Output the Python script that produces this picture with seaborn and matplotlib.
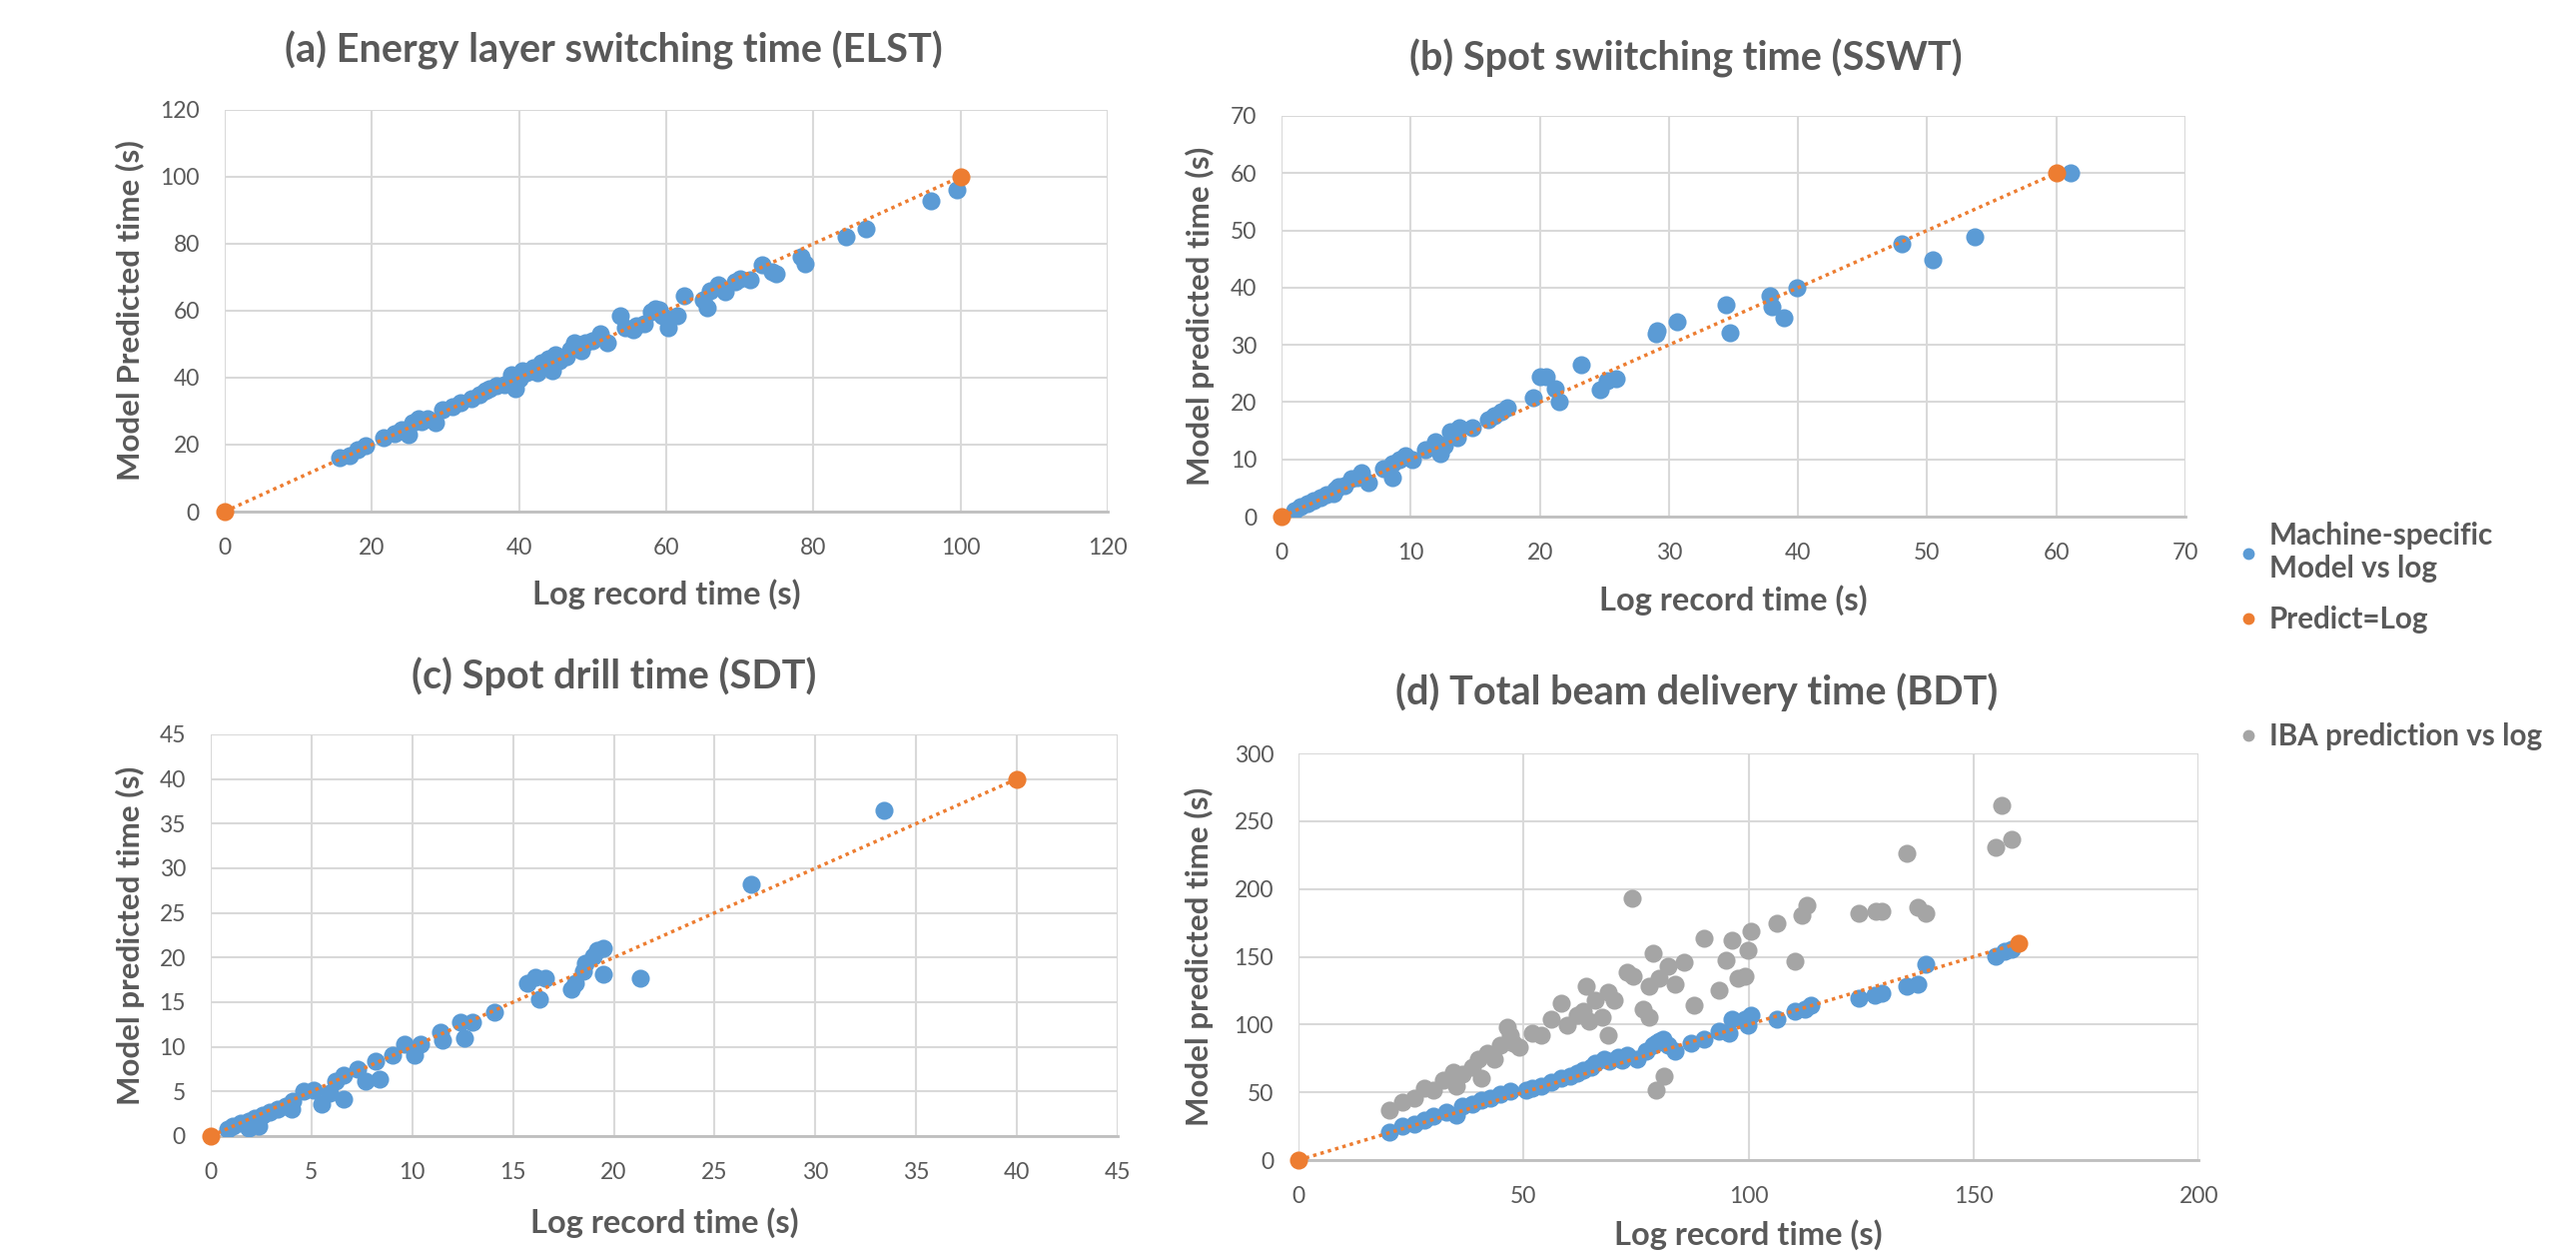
import matplotlib
matplotlib.use("Agg")
import matplotlib.pyplot as plt
import seaborn as sns
from matplotlib.lines import Line2D

sns.set_theme(style="white")
plt.rcParams['font.family'] = ['Lato', 'DejaVu Sans']

BLUE = "#5B9BD5"
ORANGE = "#ED7D31"
GREY = "#A5A5A5"
TEXT = "#595959"

# (a) energy layer switching time
a_log = [15.6, 17.0, 18.1, 19.1, 21.6, 23.1, 24.0, 25.0, 25.6, 26.3, 26.8, 27.6, 28.6, 29.6, 31.0, 32.0,
         33.6, 34.6, 35.5, 36.0, 37.0, 38.0, 39.0, 39.5, 40.0, 40.5, 41.0, 42.0, 42.5, 43.0, 44.0, 44.5,
         45.0, 45.5, 46.5, 47.0, 47.5, 48.5, 49.0, 50.0, 51.0, 52.0, 53.8, 54.5, 55.5, 56.0, 57.0, 58.0,
         58.5, 59.0, 59.5, 60.3, 61.5, 62.5, 65.0, 65.6, 66.0, 67.0, 68.0, 69.4, 70.0, 71.4, 73.0, 74.4,
         75.0, 78.4, 78.9, 84.4, 87.2, 96.0, 99.5]
a_model = [16.1, 16.7, 18.5, 19.7, 22.0, 23.2, 24.5, 23.0, 26.7, 27.9, 27.0, 27.9, 26.7, 30.3, 31.4, 32.5,
           33.8, 35.0, 36.0, 36.7, 37.5, 38.0, 40.9, 36.7, 39.7, 42.0, 41.5, 43.0, 41.5, 44.4, 45.6, 42.0,
           46.8, 45.0, 46.2, 48.5, 50.3, 48.0, 50.3, 51.0, 53.2, 50.3, 58.5, 55.0, 54.4, 55.5, 56.2, 59.7,
           60.5, 60.3, 58.5, 55.0, 58.5, 64.4, 63.3, 60.9, 66.0, 67.9, 65.6, 68.5, 69.5, 69.1, 73.8, 71.5,
           70.9, 76.2, 74.1, 82.1, 84.5, 92.7, 96.2]
a_ident = [0, 100]

# (b) spot switching time
b_log = [1.0, 1.5, 2.0, 2.5, 3.0, 3.5, 4.0, 4.2, 4.4, 4.9, 5.4, 5.9, 6.2, 6.7, 7.9, 8.6, 8.6, 9.1, 9.6,
         10.1, 11.1, 11.9, 12.3, 12.6, 13.1, 13.6, 13.8, 14.8, 16.0, 16.5, 17.0, 17.5, 19.5, 20.0, 20.5,
         21.2, 21.5, 23.2, 24.7, 25.2, 25.9, 29.0, 29.1, 30.6, 34.4, 34.7, 37.8, 38.0, 38.9, 39.9, 48.0,
         50.4, 53.7, 61.1]
b_model = [1.0, 1.7, 2.2, 2.8, 3.3, 3.8, 4.1, 4.8, 5.2, 5.5, 6.6, 6.9, 7.6, 5.9, 8.3, 9.3, 6.9, 10.0, 10.7,
           10.0, 11.7, 13.1, 11.0, 12.4, 14.8, 13.8, 15.5, 15.5, 16.9, 17.6, 18.3, 19.0, 20.7, 24.5, 24.5,
           22.4, 20.0, 26.6, 22.1, 23.8, 24.1, 31.9, 32.4, 34.1, 37.0, 32.1, 38.6, 36.6, 34.8, 39.9, 47.7,
           44.8, 48.8, 60.1]
b_ident = [0, 60]

# (c) spot drill time
c_log = [0.84, 1.1, 1.5, 1.9, 1.9, 2.2, 2.4, 2.6, 2.95, 3.3, 3.7, 4.0, 4.05, 4.6, 5.1, 5.5, 5.9, 6.2, 6.6,
         6.6, 7.3, 7.7, 8.2, 8.4, 9.0, 9.6, 10.1, 10.4, 11.4, 11.5, 12.4, 12.6, 13.0, 14.1, 15.7, 16.1,
         16.3, 16.6, 17.9, 18.1, 18.5, 18.6, 19.0, 19.2, 19.5, 19.5, 21.3, 26.8, 33.4]
c_model = [0.78, 1.1, 1.4, 1.7, 0.9, 2.05, 1.1, 2.4, 2.7, 3.05, 3.4, 3.0, 3.9, 5.0, 5.2, 3.6, 4.8, 6.2, 6.8,
           4.1, 7.5, 6.2, 8.4, 6.4, 9.1, 10.3, 9.1, 10.3, 11.6, 10.7, 12.8, 11.0, 12.8, 13.9, 17.1, 17.8,
           15.3, 17.7, 16.4, 17.1, 18.5, 19.4, 20.1, 20.8, 21.0, 18.1, 17.7, 28.2, 36.5]
c_ident = [0, 40]

# (d) total beam delivery time
d_log = [20.2, 23.0, 25.8, 27.9, 30.0, 32.9, 35.0, 36.4, 38.5, 40.6, 42.7, 44.9, 47.0, 50.5, 52.0, 54.0,
         56.1, 58.3, 60.4, 62.0, 63.2, 65.0, 66.0, 67.9, 69.0, 70.9, 72.0, 73.0, 75.2, 77.3, 78.7, 79.5,
         80.1, 81.0, 82.2, 83.6, 87.2, 90.0, 93.5, 95.6, 96.3, 99.2, 99.9, 100.6, 106.2, 110.4, 112.6,
         113.9, 124.5, 128.0, 129.5, 135.1, 137.7, 139.3, 154.9, 157.0, 158.4]
d_model = [20.3, 24.8, 26.9, 29.3, 32.3, 35.3, 33.2, 39.8, 41.3, 44.3, 45.8, 48.8, 51.2, 51.8, 53.0, 54.7,
           57.7, 60.7, 62.2, 64.5, 66.7, 68.5, 71.2, 74.2, 73.0, 75.7, 73.5, 77.2, 74.2, 80.2, 84.7, 86.0,
           87.6, 89.0, 84.7, 80.2, 86.1, 89.1, 95.1, 93.6, 104.1, 104.1, 99.6, 107.1, 104.1, 110.1, 111.6,
           114.6, 119.1, 122.0, 123.0, 128.0, 129.5, 144.5, 150.5, 154.0, 155.8]
d_iba_log = [20.2, 23.0, 25.8, 27.9, 30.0, 32.2, 34.3, 35.0, 36.4, 38.5, 39.9, 40.6, 42.0, 43.4, 44.9, 46.3,
             47.0, 47.7, 49.1, 51.9, 54.0, 56.1, 58.3, 59.7, 61.8, 63.2, 63.9, 64.6, 66.0, 67.4, 68.8, 68.8,
             70.2, 73.0, 74.2, 74.4, 76.6, 77.9, 77.9, 78.7, 80.1, 81.2, 79.4, 82.2, 83.6, 85.7, 87.8, 90.0,
             93.5, 94.9, 96.3, 97.7, 99.2, 99.9, 100.6, 106.2, 110.2, 111.8, 113.0, 124.5, 128.3, 129.7,
             135.1, 137.7, 139.3, 154.9, 156.3, 158.4]
d_iba_pred = [36.8, 42.8, 45.8, 53.2, 51.7, 59.2, 65.2, 54.7, 63.7, 68.2, 74.2, 60.7, 78.7, 74.2, 84.7, 98.1,
              92.1, 86.1, 83.2, 93.6, 92.1, 104.1, 116.1, 99.6, 107.1, 110.1, 128.0, 102.6, 117.6, 105.6,
              123.5, 92.1, 117.6, 138.5, 193.2, 135.5, 111.6, 105.6, 128.0, 152.9, 134.0, 62.2, 51.8, 143.0,
              129.5, 146.0, 114.6, 164.0, 125.0, 147.5, 162.5, 134.0, 135.5, 155.0, 169.0, 175.0, 146.6,
              180.4, 187.9, 181.9, 183.4, 183.4, 226.1, 186.4, 181.9, 230.6, 261.7, 236.3]
d_ident = [0, 160]

titles = ["(a) Energy layer switching time (ELST)", "(b) Spot swiitching time (SSWT)",
          "(c) Spot drill time (SDT)", "(d) Total beam delivery time (BDT)"]
ylabels = ["Model Predicted time (s)", "Model predicted time (s)",
           "Model predicted time (s)", "Model predicted time (s)"]
xlabel = "Log record time (s)"
legend_labels = ["Machine-specific\nModel vs log", "Predict=Log", "IBA prediction vs log"]

# x max, x step, y max, y step
a_ticks = (120, 20, 120, 20)
b_ticks = (70, 10, 70, 10)
c_ticks = (45, 5, 45, 5)
d_ticks = (200, 50, 300, 50)

panels = [
    dict(x=a_log, y=a_model, ident=a_ident, ticks=a_ticks, rect=[0.0872, 0.5930, 0.3428, 0.3196],
         title_xy=(614, 50), xl=-0.206, yl=-0.1075),
    dict(x=b_log, y=b_model, ident=b_ident, ticks=b_ticks, rect=[0.4975, 0.5890, 0.3509, 0.3188],
         title_xy=(1688, 58), xl=-0.209, yl=-0.0906),
    dict(x=c_log, y=c_model, ident=c_ident, ticks=c_ticks, rect=[0.0818, 0.0962, 0.3521, 0.3196],
         title_xy=(615, 677), xl=-0.216, yl=-0.0892),
    dict(x=d_log, y=d_model, ident=d_ident, ticks=d_ticks, rect=[0.5041, 0.0771, 0.3494, 0.3235],
         title_xy=(1699, 693), xl=-0.184, yl=-0.110),
]

W, H = 2579, 1258
fig = plt.figure(figsize=(W / 100, H / 100), dpi=100)

for i, p in enumerate(panels):
    ax = fig.add_axes(p["rect"])
    xmax, xstep, ymax, ystep = p["ticks"]

    if i == 3:
        sns.scatterplot(x=d_iba_log, y=d_iba_pred, ax=ax, color=GREY, s=170, linewidth=0, zorder=3)
    sns.scatterplot(x=p["x"], y=p["y"], ax=ax, color=BLUE, s=170, linewidth=0, zorder=3)
    sns.lineplot(x=p["ident"], y=p["ident"], ax=ax, color=ORANGE, lw=2.5,
                 linestyle=(0, (1, 1.2)), zorder=4)
    sns.scatterplot(x=p["ident"], y=p["ident"], ax=ax, color=ORANGE, s=170, linewidth=0,
                    zorder=5, clip_on=False)

    ax.set_xlim(0, xmax)
    ax.set_ylim(0, ymax)
    ax.set_xticks(range(0, xmax + 1, xstep))
    ax.set_yticks(range(0, ymax + 1, ystep))
    ax.grid(True, color="#D9D9D9", lw=1.5)
    ax.set_axisbelow(True)
    for s in ["top", "right", "left"]:
        ax.spines[s].set_visible(False)
    ax.spines["bottom"].set_color("#BFBFBF")
    ax.spines["bottom"].set_linewidth(2)
    ax.tick_params(axis="both", length=0, labelsize=16.5, labelcolor=TEXT)
    ax.tick_params(axis="x", pad=19)
    ax.tick_params(axis="y", pad=18)

    ax.set_xlabel(xlabel, fontsize=23.5, fontweight="bold", color=TEXT, va="center")
    ax.set_ylabel(ylabels[i], fontsize=22.5, fontweight="bold", color=TEXT, va="center")
    ax.xaxis.set_label_coords(0.5, p["xl"])
    ax.yaxis.set_label_coords(p["yl"], 0.5)

    tx, ty = p["title_xy"]
    fig.text(tx / W, 1 - ty / H, titles[i], ha="center", va="center",
             fontsize=28.5, fontweight="bold", color=TEXT)

handles = [Line2D([], [], marker="o", ls="", color=c, markersize=7.5) for c in [BLUE, ORANGE, GREY]]
leg_style = dict(frameon=False, labelcolor=TEXT, handlelength=0.5, handletextpad=0.45,
                 borderpad=0, borderaxespad=0, prop={"weight": "bold", "size": 21.3})
fig.legend(handles[:2], legend_labels[:2], loc="upper left", bbox_to_anchor=(0.870, 0.585),
           labelspacing=0.8, **leg_style)
fig.legend(handles[2:], legend_labels[2:], loc="center left", bbox_to_anchor=(0.870, 0.4142),
           **leg_style)

fig.savefig("out.png", dpi=100)
